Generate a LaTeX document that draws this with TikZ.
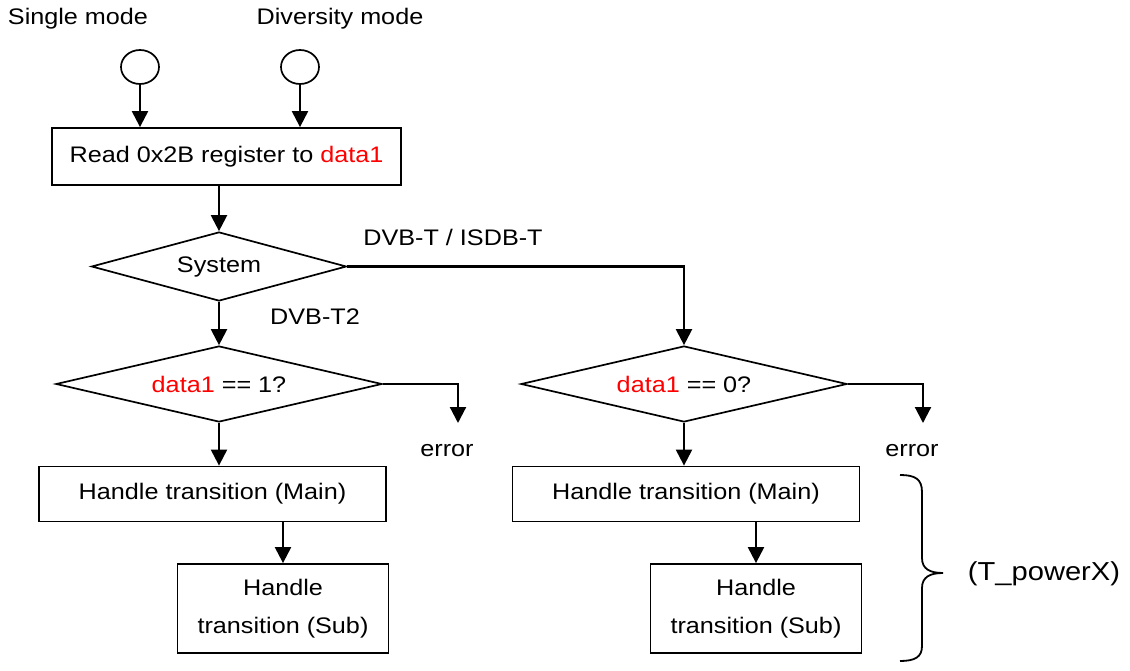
\documentclass[tikz,border=0pt]{standalone}
\usepackage{fontspec}
\setmainfont{Liberation Sans}[FakeStretch=1.12]
\usetikzlibrary{shapes.geometric,arrows.meta}
\begin{document}
\begin{tikzpicture}[x=1pt,y=-1pt,
  every node/.style={font=\fontsize{22.5pt}{30pt}\selectfont, text=black},
  box/.style={draw, line width=1.8pt, inner sep=0pt, align=center},
  dia/.style={draw, diamond, line width=1.7pt, inner sep=0pt, shape aspect=4},
  startc/.style={draw, ellipse, line width=1.7pt, inner sep=0pt, minimum width=38pt, minimum height=34pt},
  lbl/.style={inner sep=0pt},
  conn/.style={line width=2.2pt, -{Triangle[length=16pt,width=16pt]}},
  line/.style={line width=2.2pt}]
\useasboundingbox (0,0) rectangle (1130,671);
% start circles and labels
\node[lbl] (lsingle) at (78,19) {Single mode};
\node[lbl] (ldiv) at (340,19) {Diversity mode};
\node[startc] (c1) at (140,67) {};
\node[startc] (c2) at (300,67) {};
% boxes
\node[box, minimum width=349pt, minimum height=57pt] (read) at (226.5,156.5) {Read 0x2B register to \textcolor{red}{data1}};
\node[dia, minimum width=255pt, minimum height=69pt] (sys) at (219,266.5) {\raisebox{-3pt}{System}};
\node[dia, minimum width=326pt, minimum height=76pt] (d1) at (219,384) {\raisebox{-2pt}{\textcolor{red}{data1} == 1?}};
\node[dia, minimum width=326pt, minimum height=76pt] (d2) at (684,384) {\raisebox{-2pt}{\textcolor{red}{data1} == 0?}};
\node[box, minimum width=347pt, minimum height=55pt] (m1) at (212.5,494) {Handle transition (Main)};
\node[box, minimum width=347pt, minimum height=55pt] (m2) at (686,494) {Handle transition (Main)};
\node[box, minimum width=211pt, minimum height=89pt, font=\fontsize{22.5pt}{38pt}\selectfont] (s1) at (283,608.5) {Handle\\transition (Sub)};
\node[box, minimum width=211pt, minimum height=89pt, font=\fontsize{22.5pt}{38pt}\selectfont] (s2) at (756,608.5) {Handle\\transition (Sub)};
% labels
\node[lbl] (ldvbt) at (453,237) {DVB-T / ISDB-T};
\node[lbl] (ldvbt2) at (315,317) {DVB-T2};
\node[lbl] (le1) at (447,451) {error};
\node[lbl] (le2) at (912,451) {error};
\node[lbl, font=\fontsize{26pt}{30pt}\selectfont] (ltp) at (1044,574) {(T\_powerX)};
\coordinate (e1) at (458,423);
\coordinate (e2) at (923,423);
% connectors
\draw[conn] (c1.south) -- (c1.south |- read.north);
\draw[conn] (c2.south) -- (c2.south |- read.north);
\draw[conn] (sys.north |- read.south) -- (sys.north);
\draw[conn] (sys.south) -- (d1.north);
\draw[conn] (sys.east) -| (d2.north);
\draw[conn] (d1.east) -| (e1);
\draw[conn] (d2.east) -| (e2);
\draw[conn] (d1.south) -- (d1.south |- m1.north);
\draw[conn] (d2.south) -- (d2.south |- m2.north);
\draw[conn] (s1.north |- m1.south) -- (s1.north);
\draw[conn] (s2.north |- m2.south) -- (s2.north);
% brace
\draw[line width=1.8pt] (900,475) .. controls (915,475) and (922,479) .. (922,492)
  -- (922,558) .. controls (922,569) and (930,573) .. (943,573)
  .. controls (930,573) and (922,577) .. (922,588)
  -- (922,646) .. controls (922,657) and (915,661) .. (900,661);
\end{tikzpicture}
\end{document}
